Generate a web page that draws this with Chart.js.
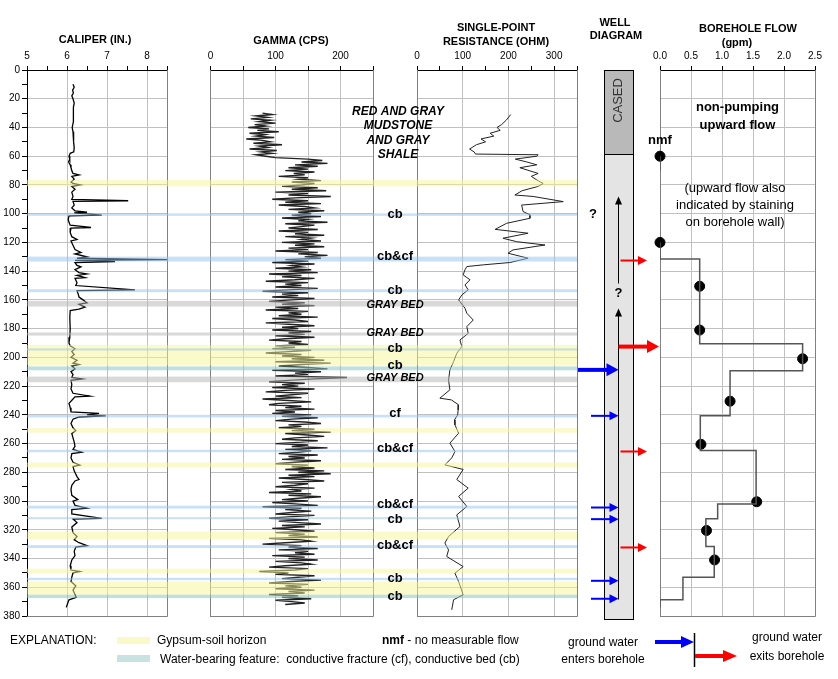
<!DOCTYPE html>
<html>
<head>
<meta charset="utf-8">
<script src="https://cdn.jsdelivr.net/npm/chart.js@4.4.1/dist/chart.umd.min.js"></script>
<style>
body { margin: 0; background: #fff; font-family: "Liberation Sans", Arial, sans-serif; }
#wrap { position: relative; width: 838px; height: 679px; overflow: hidden; }
#wrap canvas { position: absolute; left: 0; top: 0; }
.t { position: absolute; white-space: nowrap; color: #000; transform: translate(-50%, -50%); }
.l { transform: translateY(-50%); }
.h { font-weight: bold; font-size: 11px; }
.lg { font-size: 12px; }
.sw { position: absolute; width: 33px; height: 7px; }
</style>
</head>
<body>
<div id="wrap">
  <canvas id="cal" width="838" height="679"></canvas>
  <canvas id="gam" width="838" height="679"></canvas>
  <canvas id="flow" width="838" height="679"></canvas>
  <canvas id="res" width="838" height="679"></canvas>

  <div class="t h" style="left:95px;top:39px">CALIPER (IN.)</div>
  <div class="t h" style="left:291px;top:40px">GAMMA (CPS)</div>
  <div class="t h" style="left:496px;top:27px">SINGLE-POINT</div>
  <div class="t h" style="left:496px;top:41px">RESISTANCE (OHM)</div>
  <div class="t h" style="left:615px;top:22px">WELL</div>
  <div class="t h" style="left:616px;top:35px">DIAGRAM</div>
  <div class="t h" style="left:748px;top:28px">BOREHOLE FLOW</div>
  <div class="t h" style="left:737px;top:42px">(gpm)</div>

  <!-- explanation -->
  <div class="t l lg" style="left:10px;top:640px">EXPLANATION:</div>
  <div class="sw" style="left:117px;top:637px;background:#fafac8"></div>
  <div class="t l lg" style="left:157px;top:640px">Gypsum-soil horizon</div>
  <div class="sw" style="left:117px;top:655px;background:#c8e2e2"></div>
  <div class="t l lg" style="left:160px;top:659px">Water-bearing feature:&nbsp; conductive fracture (cf), conductive bed (cb)</div>
  <div class="t l lg" style="left:382px;top:640px"><b>nmf</b> - no measurable flow</div>
  <div class="t lg" style="left:603px;top:642px">ground water</div>
  <div class="t lg" style="left:603px;top:659px">enters borehole</div>
  <div class="t lg" style="left:787px;top:637px">ground water</div>
  <div class="t lg" style="left:787px;top:656px">exits borehole</div>
  <svg style="position:absolute;left:640px;top:628px" width="110" height="44">
    <line x1="15" y1="14" x2="43" y2="14" stroke="#0000ff" stroke-width="4"/>
    <polygon points="41,8 54,14 41,20" fill="#0000ff"/>
    <line x1="54.5" y1="5" x2="54.5" y2="39" stroke="#000" stroke-width="1.5"/>
    <line x1="55" y1="28" x2="85" y2="28" stroke="#ff0000" stroke-width="4"/>
    <polygon points="83,22 97,28 83,34" fill="#ff0000"/>
  </svg>
</div>

<script>
// ---- data (depth in feet below land surface) ----
const depthTicks = [0, 20, 40, 60, 80, 100, 120, 140, 160, 180, 200, 220, 240, 260, 280, 300, 320, 340, 360, 380];

// caliper log
const caliperDepth = [10, 12, 14, 16, 18, 20, 23, 26, 30, 33, 36, 40, 43, 46, 50, 54, 57, 58, 60, 62, 64, 66, 68, 70, 72, 73, 74, 76, 78, 79, 80, 81, 83, 85, 88, 90, 91, 91.5, 94, 96, 98, 99, 99.5, 101, 101.5, 104, 106, 108, 109.6, 110, 113, 116, 118, 119, 122, 125, 127, 128, 130, 131, 132, 132.5, 133.3, 134, 136, 137, 139, 141, 142, 143, 144.5, 145, 148, 150, 153, 153.5, 156, 158, 160, 162, 163, 165, 166.5, 167.5, 172, 180, 186, 190, 192, 194, 196, 198, 200, 202, 204, 205, 206, 208, 210, 212, 214, 215, 216, 219, 222, 225, 227, 227.5, 229, 232, 235, 238, 239, 240, 240.7, 241.5, 243, 246, 249, 251, 253, 256, 259, 262, 264, 266, 267, 270, 273, 275, 276, 279, 283, 285, 286, 289, 292, 296, 299, 300, 303, 305, 306, 309, 312, 312.5, 315, 318, 322, 324.7, 327, 329, 331, 332, 335, 338, 341, 345, 348, 349, 350, 353, 356, 359, 362, 365, 367, 368.7, 371, 374];
const caliperIn = [6.15, 6.18, 6.14, 6.16, 6.12, 6.15, 6.18, 6.16, 6.17, 6.15, 6.16, 6.13, 6.15, 6.17, 6.16, 6.18, 6.17, 6.08, 6.05, 6.07, 6.04, 6.08, 6.1, 6.12, 6.15, 6.3, 6.12, 6.18, 6.1, 6.15, 6.33, 6.12, 6.2, 6.12, 6.15, 6.12, 7.53, 6.15, 6.18, 6.12, 6.2, 6.5, 6.18, 6.87, 6.05, 6.03, 6.05, 6.08, 6.6, 6.1, 6.08, 6.12, 6.25, 6.1, 6.15, 6.2, 6.35, 6.2, 6.5, 6.25, 8.5, 6.2, 7.2, 6.2, 6.25, 6.35, 6.2, 6.3, 6.5, 6.25, 6.45, 6.2, 6.25, 6.22, 7.7, 6.25, 6.28, 6.3, 6.4, 6.5, 6.3, 6.45, 6.3, 6.08, 6.07, 6.08, 6.07, 6.05, 6.08, 6.2, 6.12, 6.18, 6.1, 6.25, 6.15, 6.3, 6.12, 6.2, 6.1, 6.15, 6.12, 6.38, 6.1, 6.12, 6.1, 6.15, 6.57, 6.2, 6.15, 6.05, 6.08, 6.1, 6.8, 6.5, 6.97, 6.3, 6.15, 6.1, 6.15, 6.22, 6.12, 6.15, 6.18, 6.2, 6.15, 6.37, 6.12, 6.1, 6.15, 6.32, 6.15, 6.18, 6.25, 6.3, 6.2, 6.12, 6.1, 6.12, 6.27, 6.15, 6.2, 6.5, 6.12, 6.12, 6.87, 6.15, 6.25, 6.12, 6.15, 6.25, 6.18, 6.3, 6.5, 6.22, 6.18, 6.2, 6.12, 6.08, 6.1, 6.32, 6.15, 6.12, 6.1, 6.22, 6.15, 6.2, 6.23, 6.05, 6.02, 5.98];

// gamma log, one sample per foot from GAMMA_TOP
const GAMMA_TOP = 30, GAMMA_STEP = 1;
const gammaCps = [
  80, 95, 70, 88, 62, 92, 75, 100, 68, 85,
  58, 90, 72, 105, 60, 84, 70, 98, 55, 80,
  92, 66, 110, 75, 88, 60, 102, 78, 95, 70,
  85, 100, 150, 172, 140, 180, 130, 165, 120, 150,
  115, 160, 128, 145, 105, 150, 135, 170, 125, 160,
  140, 110, 165, 125, 178, 100, 150, 120, 185, 130,
  95, 150, 115, 170, 105, 145, 160, 120, 175, 135,
  155, 125, 170, 110, 150, 135, 180, 115, 160, 140,
  120, 165, 105, 150, 130, 175, 115, 155, 140, 170,
  110, 160, 130, 175, 120, 150, 100, 165, 135, 180,
  145, 170, 115, 150, 95, 160, 125, 140, 100, 155,
  120, 165, 90, 140, 110, 160, 130, 85, 150, 115,
  140, 100, 165, 120, 80, 150, 110, 135, 95, 160,
  125, 90, 145, 110, 160, 100, 135, 85, 150, 120,
  140, 105, 165, 95, 130, 150, 85, 120, 160, 110,
  135, 95, 155, 120, 145, 100, 160, 115, 90, 140,
  120, 150, 100, 130, 95, 155, 120, 85, 140, 110,
  160, 125, 175, 100, 185, 140, 105, 150, 180, 95,
  170, 130, 150, 100, 210, 160, 120, 90, 145, 110,
  135, 95, 160, 115, 85, 150, 125, 100, 140, 80,
  120, 155, 105, 90, 140, 115, 160, 100, 130, 95,
  155, 110, 165, 125, 100, 145, 170, 120, 140, 105,
  160, 125, 185, 115, 150, 175, 130, 110, 165, 140,
  100, 150, 125, 180, 115, 155, 135, 105, 165, 120,
  145, 110, 170, 130, 100, 150, 125, 160, 115, 175,
  135, 185, 120, 160, 105, 145, 175, 110, 150, 130,
  100, 160, 125, 140, 90, 155, 120, 170, 135, 110,
  150, 95, 130, 165, 80, 140, 115, 155, 125, 100,
  160, 120, 90, 150, 105, 135, 170, 110, 145, 95,
  130, 160, 100, 145, 120, 165, 90, 140, 155, 115,
  80, 140, 120, 165, 105, 150, 130, 160, 95, 145,
  120, 165, 100, 140, 155, 115, 90, 150, 130, 75,
  120, 100, 160, 135, 110, 170, 125, 90, 150, 115,
  140, 100, 160, 120, 145, 90, 135, 110, 155, 100,
  125, 145, 115
];

// single-point resistance log
const resDepth = [31, 35, 38, 40, 42, 44, 46, 48, 50, 52, 55, 57, 58.5, 59, 60, 62, 64, 66, 68, 70, 72, 74, 76.5, 79, 81, 84, 87, 88, 91.6, 94, 98.5, 100.8, 103.2, 106.7, 110.9, 113.6, 117.1, 119.5, 121.8, 125.2, 127.5, 131, 134, 135.6, 136.8, 139, 142.6, 146, 149.6, 153, 156.6, 160, 165.8, 169.3, 174, 178.6, 183.3, 187.9, 192.5, 197.2, 203, 208.7, 215.7, 222.6, 228.4, 229.6, 233, 236.5, 240, 243.5, 247, 252.8, 259.7, 265.5, 270, 274.8, 278, 285, 291, 296.8, 303.8, 309.6, 317.7, 324.7, 329.2, 334, 338.6, 345.6, 350.2, 356, 365.2, 368.7, 375.7];
const resOhm = [205, 195, 185, 175, 182, 160, 168, 140, 150, 130, 115, 125, 128, 265, 262, 215, 240, 262, 225, 245, 265, 250, 262, 276, 265, 230, 214, 254, 320, 229, 232, 247, 247, 196, 171, 243, 188, 218, 280, 210, 199, 243, 203, 145, 109, 105, 101, 116, 105, 112, 98, 91, 105, 109, 123, 109, 112, 94, 98, 87, 80, 72, 69, 72, 50, 75, 91, 90, 89, 82, 83, 91, 72, 83, 76, 61, 101, 87, 112, 91, 109, 87, 94, 69, 61, 69, 65, 101, 83, 91, 101, 80, 76];

// borehole flow: measured stations and the interpreted flow profile
const flowDepth = [60, 120, 150.5, 181, 201, 230.5, 260.5, 300.5, 320.5, 341];
const flowGpm = [0, 0, 0.64, 0.64, 2.3, 1.13, 0.66, 1.56, 0.75, 0.88];
const flowStepDepth = [120, 131.6, 190.6, 209.4, 240.7, 264.8, 302, 312.4, 331.6, 353, 368.7, 374];
const flowStepGpm = [0, 0.64, 2.3, 1.13, 0.65, 1.55, 0.93, 0.74, 0.875, 0.37, 0, 0];
const nmfStubDepth = [60, 70];

// horizons (top, bottom depth)
const gypsumBands = [[76.5, 81], [191.3, 205.7], [249.3, 252.3], [273.2, 276.4], [321.2, 326.5], [347.1, 350.1], [356, 365.2]];
const waterBands = [[99.8, 101.5], [129.9, 133.3], [152.6, 154.6], [193.8, 195.2], [240, 241.8], [264.3, 266], [303.3, 305.2], [311.2, 312.6], [330.7, 332.7], [353.4, 355]];
const waterGypsumBands = [[206.3, 209], [365.2, 367.5]];
const grayBands = [[160.7, 164.6], [182.7, 184.8], [213.4, 217.3]];

const featureLabels = ['cb', 'cb&cf', 'cb', 'GRAY BED', 'GRAY BED', 'cb', 'cb', 'GRAY BED', 'cf', 'cb&cf', 'cb&cf', 'cb', 'cb&cf', 'cb', 'cb'];
const featureDepths = [100.4, 129.4, 153.5, 163.5, 182.7, 194.1, 205.7, 214.3, 239, 263.2, 302.1, 312.6, 331.1, 353.9, 366.4];
const lithologyLines = ['RED AND GRAY', 'MUDSTONE', 'AND GRAY', 'SHALE'];
const lithologyDepths = [28.7, 38.8, 48.9, 59.1];

// well construction and flow directions
const casingBottom = 58.4, holeBottom = 382;
const inflowMajor = [208.7];
const inflowMinor = [240.7, 304.5, 312.6, 355.5, 368];
const outflowMajor = [192.5];
const outflowMinor = [132.6, 265.5, 332.3];
const upflowTops = [87.7, 165.3];
const upflowBottoms = [148.2, 368];
const unknownDepths = [100.2, 155.8];

// ---- layout / style ----
const W = 838, H = 679;
const PLOT_TOP = 70, PLOT_BOTTOM = 616, XAXIS_H = 30;
const GRID = '#c0c0c0', EDGE = '#808080';
const FONT = '"Liberation Sans", Arial, sans-serif';
const tickFont = { family: FONT, size: 10 };
const WELL = { left: 604.5, right: 633.5, pipe: 618.5 };

function isMult(v, m) {
    const r = v / m;
    return Math.abs(r - Math.round(r)) < 1e-6;
}

function depthAxis(showLabels) {
    return {
        type: 'linear', min: 0, max: 380, reverse: true,
        afterFit: s => { s.width = showLabels ? 27 : 0; },
        afterBuildTicks: s => {
            const t = [];
            for (let v = 0; v <= 380; v += 10) t.push({ value: v });
            s.ticks = t;
        },
        border: { color: showLabels ? '#000' : EDGE },
        grid: {
            color: c => (c.tick && c.tick.value > 0 && depthTicks.includes(c.tick.value)) ? GRID : 'rgba(0,0,0,0)',
            drawTicks: showLabels, tickLength: 5, tickColor: '#000'
        },
        ticks: {
            display: showLabels, autoSkip: false, padding: 2, color: '#000', font: tickFont,
            callback: v => depthTicks.includes(v) ? String(v) : ''
        }
    };
}

function topAxis(min, max, step, labelEvery, gridEvery, fmt) {
    return {
        type: 'linear', position: 'top', min, max,
        afterFit: s => { s.height = XAXIS_H; },
        border: { color: '#000' },
        grid: {
            color: c => (c.tick && c.tick.value > min && isMult(c.tick.value, gridEvery)) ? GRID : 'rgba(0,0,0,0)',
            drawTicks: true, tickLength: 4, tickColor: '#000'
        },
        ticks: {
            stepSize: step, autoSkip: false, maxRotation: 0, padding: 4, color: '#000', font: tickFont,
            callback: v => isMult(v, labelEvery) ? fmt(v) : ''
        }
    };
}

// gray right/bottom frame
const edgePlugin = {
    id: 'edge',
    afterDraw(chart) {
        const a = chart.chartArea, c = chart.ctx;
        c.save();
        c.strokeStyle = EDGE;
        c.lineWidth = 1;
        c.beginPath();
        c.moveTo(Math.round(a.right) + 0.5, a.top);
        c.lineTo(Math.round(a.right) + 0.5, Math.round(a.bottom) + 0.5);
        c.lineTo(a.left, Math.round(a.bottom) + 0.5);
        c.stroke();
        c.restore();
    }
};

const charts = {};

function panel(id, left, right, showDepth, xAxis, datasets, plugins) {
    const yw = showDepth ? 27 : 0;
    return new Chart(document.getElementById(id), {
        type: 'scatter',
        data: { datasets },
        options: {
            responsive: false,
            animation: false,
            events: [],
            layout: { padding: { left: left - yw, right: W - right, top: PLOT_TOP - XAXIS_H, bottom: H - PLOT_BOTTOM } },
            plugins: { legend: { display: false }, tooltip: { enabled: false } },
            scales: { x: xAxis, y: depthAxis(showDepth) }
        },
        plugins: [edgePlugin].concat(plugins || [])
    });
}

function lineSet(xs, ys, color, width) {
    return {
        data: xs.map((v, i) => ({ x: v, y: ys[i] })),
        showLine: true, pointRadius: 0, borderColor: color, borderWidth: width, fill: false
    };
}

function hArrow(c, x0, x1, y, color, width, head, half) {
    c.strokeStyle = color;
    c.fillStyle = color;
    c.lineWidth = width;
    c.beginPath();
    c.moveTo(x0, y);
    c.lineTo(x1 - head + 1, y);
    c.stroke();
    c.beginPath();
    c.moveTo(x1 - head, y - half);
    c.lineTo(x1, y);
    c.lineTo(x1 - head, y + half);
    c.closePath();
    c.fill();
}

// bands and labels are drawn on the top canvas so they tint every log
const bandPlugin = {
    id: 'bands',
    afterDatasetsDraw(chart) {
        const y = chart.scales.y, c = chart.ctx;
        const x0 = charts.cal.chartArea.left, x1 = chart.chartArea.right;
        const fill = (list, col) => list.forEach(([a, b]) => {
            const ya = y.getPixelForValue(a), yb = y.getPixelForValue(b);
            c.fillStyle = col;
            c.fillRect(x0, ya, x1 - x0, yb - ya);
        });
        c.save();
        fill(gypsumBands, 'rgba(248,245,150,0.5)');
        fill(grayBands, 'rgba(180,180,180,0.5)');
        fill(waterBands, 'rgba(145,195,240,0.5)');
        fill(waterGypsumBands, 'rgba(140,198,198,0.55)');
        c.restore();
    },
    afterDraw(chart) {
        const y = chart.scales.y, c = chart.ctx;
        const cx = (charts.gam.chartArea.right + chart.chartArea.left) / 2;
        c.save();
        c.fillStyle = '#000';
        c.textAlign = 'center';
        c.textBaseline = 'middle';
        featureLabels.forEach((t, i) => {
            c.font = t === 'GRAY BED' ? 'italic bold 11px ' + FONT : 'bold 13px ' + FONT;
            c.fillText(t, cx, y.getPixelForValue(featureDepths[i]));
        });
        c.font = 'italic bold 12px ' + FONT;
        lithologyLines.forEach((t, i) => c.fillText(t, cx + 3, y.getPixelForValue(lithologyDepths[i])));
        c.restore();
    }
};

// well diagram + flow annotations
const wellPlugin = {
    id: 'well',
    afterDraw(chart) {
        const y = chart.scales.y, x = chart.scales.x, c = chart.ctx;
        const py = d => Math.round(y.getPixelForValue(d)) + 0.5;
        c.save();
        const w = WELL.right - WELL.left;
        c.fillStyle = '#e4e4e4';
        c.fillRect(WELL.left, py(casingBottom), w, py(holeBottom) - py(casingBottom));
        c.fillStyle = '#b9b9b9';
        c.fillRect(WELL.left, py(0), w, py(casingBottom) - py(0));
        c.strokeStyle = '#000';
        c.lineWidth = 1;
        c.strokeRect(WELL.left, py(0), w, py(casingBottom) - py(0));
        c.strokeRect(WELL.left, py(casingBottom), w, py(holeBottom) - py(casingBottom));

        c.save();
        c.translate(WELL.pipe, y.getPixelForValue(casingBottom / 2 - 8));
        c.rotate(-Math.PI / 2);
        c.font = '13px ' + FONT;
        c.fillStyle = '#333';
        c.textAlign = 'center';
        c.textBaseline = 'middle';
        c.fillText('CASED', 0, 0);
        c.restore();

        // upward flow inside the hole
        c.strokeStyle = '#000';
        c.fillStyle = '#000';
        c.lineWidth = 1;
        upflowTops.forEach((top, i) => {
            const yt = py(top), yb = py(upflowBottoms[i]);
            c.beginPath();
            c.moveTo(WELL.pipe, yb);
            c.lineTo(WELL.pipe, yt + 6);
            c.stroke();
            c.beginPath();
            c.moveTo(WELL.pipe - 3.5, yt + 8);
            c.lineTo(WELL.pipe, yt);
            c.lineTo(WELL.pipe + 3.5, yt + 8);
            c.closePath();
            c.fill();
        });

        inflowMajor.forEach(d => hArrow(c, 578, WELL.pipe, y.getPixelForValue(d), '#0000ff', 4, 12, 6.5));
        inflowMinor.forEach(d => hArrow(c, 591, WELL.pipe, y.getPixelForValue(d), '#0000ff', 2, 9, 4.5));
        outflowMajor.forEach(d => hArrow(c, WELL.pipe, chart.chartArea.left - 1, y.getPixelForValue(d), '#ff0000', 4, 12, 6.5));
        outflowMinor.forEach(d => hArrow(c, WELL.pipe + 2, 647, y.getPixelForValue(d), '#ff0000', 2, 9, 4.5));

        c.fillStyle = '#000';
        c.textAlign = 'center';
        c.textBaseline = 'middle';
        c.font = 'bold 13px ' + FONT;
        c.fillText('?', 593, y.getPixelForValue(unknownDepths[0]));
        c.fillText('?', WELL.pipe, y.getPixelForValue(unknownDepths[1]));

        c.font = 'bold 13px ' + FONT;
        c.fillText('nmf', x.getPixelForValue(0), y.getPixelForValue(48.7));
        c.fillText('non-pumping', x.getPixelForValue(1.25), y.getPixelForValue(25.7));
        c.fillText('upward flow', x.getPixelForValue(1.25), y.getPixelForValue(38.3));
        c.font = '13px ' + FONT;
        c.fillText('(upward flow also', x.getPixelForValue(1.21), y.getPixelForValue(82.3));
        c.fillText('indicated by staining', x.getPixelForValue(1.21), y.getPixelForValue(94.4));
        c.fillText('on borehole wall)', x.getPixelForValue(1.21), y.getPixelForValue(106.2));
        c.restore();
    }
};

// ---- build panels ----
charts.cal = panel('cal', 27, 167, true,
    topAxis(5, 8.5, 0.5, 1, 1, v => String(v)),
    [lineSet(caliperIn, caliperDepth, '#000', 1.3)]);

charts.gam = panel('gam', 210.5, 373, false,
    topAxis(0, 250, 50, 100, 50, v => String(v)),
    [lineSet(gammaCps, gammaCps.map((v, i) => GAMMA_TOP + i * GAMMA_STEP), '#222', 1.4)]);

const flowStep = lineSet(flowStepGpm, flowStepDepth, '#555', 1.5);
flowStep.stepped = 'after';
charts.flow = panel('flow', 660, 815, false,
    topAxis(0, 2.5, 0.5, 0.5, 0.5, v => v.toFixed(1)),
    [
        flowStep,
        lineSet([0, 0], nmfStubDepth, '#555', 1.5),
        {
            data: flowGpm.map((v, i) => ({ x: v, y: flowDepth[i] })),
            showLine: false, pointRadius: 5, pointBackgroundColor: '#000', pointBorderColor: '#000', clip: false
        }
    ],
    [wellPlugin]);

charts.res = panel('res', 417, 577, false,
    topAxis(0, 350, 50, 100, 100, v => String(v)),
    [lineSet(resOhm, resDepth, '#222', 1)],
    [bandPlugin]);
</script>
</body>
</html>
